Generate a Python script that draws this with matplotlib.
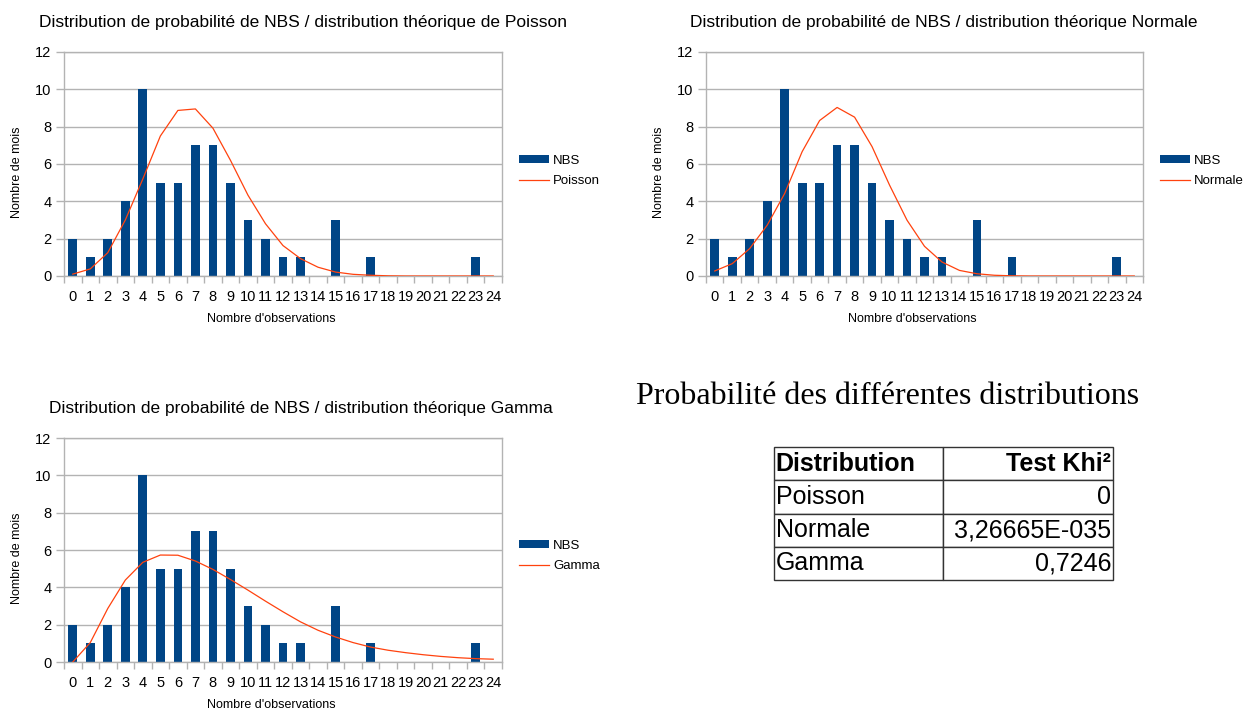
import matplotlib
matplotlib.use("Agg")
import matplotlib.pyplot as plt
from matplotlib.ticker import MultipleLocator, FixedLocator

plt.rcParams['font.family'] = ['Liberation Sans', 'DejaVu Sans']

W, H = 1246, 711

# data
observations = list(range(25))
nbs = [2, 1, 2, 4, 10, 5, 5, 7, 7, 5, 3, 2, 1, 1, 0, 3, 0, 1, 0, 0, 0, 0, 0, 1, 0]
poisson = [0.1, 0.38, 1.25, 3.0, 5.2, 7.5, 8.87, 8.95, 7.92, 6.2, 4.33, 2.8, 1.63,
           0.93, 0.47, 0.21, 0.09, 0.04, 0.01, 0.0, 0.0, 0.0, 0.0, 0.0, 0.0]
normale = [0.27, 0.66, 1.47, 2.72, 4.42, 6.66, 8.33, 9.03, 8.51, 6.93, 4.87, 2.99, 1.59,
           0.75, 0.3, 0.12, 0.04, 0.01, 0.0, 0.0, 0.0, 0.0, 0.0, 0.0, 0.0]
gamma = [0.0, 1.04, 2.87, 4.39, 5.34, 5.73, 5.72, 5.41, 4.96, 4.42, 3.85, 3.26, 2.69,
         2.15, 1.70, 1.34, 1.04, 0.80, 0.63, 0.5, 0.39, 0.30, 0.23, 0.18, 0.15]

table_cols = ["Distribution", "Test Khi²"]
table_names = ["Poisson", "Normale", "Gamma"]
table_values = ["0", "3,26665E-035", "0,7246"]

BLUE = "#004586"
ORANGE = "#ff420e"
GRAY = "#b3b3b3"


def fx(x):
    return x / W


def fy(y):
    return 1 - y / H


fig = plt.figure(figsize=(W / 100, H / 100), dpi=100)


def chart(left, right, top, bottom, curve, name, title, title_xy, leg_xy):
    ax = fig.add_axes([fx(left), fy(bottom), fx(right - left), (bottom - top) / H])
    bars = ax.bar(observations, nbs, width=0.5, color=BLUE, label="NBS", zorder=2)
    line, = ax.plot(observations, curve, color=ORANGE, lw=0.9, label=name, zorder=3)
    ax.set_xlim(-0.5, 24.5)
    ax.set_ylim(0, 12)
    ax.yaxis.set_major_locator(MultipleLocator(2))
    ax.set_xticks(observations)
    ax.xaxis.set_minor_locator(FixedLocator([i - 0.5 for i in range(26)]))
    ax.tick_params(axis='x', which='major', length=0, pad=10, labelsize=10.5, colors='black')
    ax.tick_params(axis='x', which='minor', length=5, color=GRAY, width=1)
    ax.tick_params(axis='y', length=6, color=GRAY, width=1, pad=3, labelsize=10.5)
    ax.grid(axis='y', color=GRAY, lw=1, zorder=0)
    ax.set_axisbelow(True)
    for s in ax.spines.values():
        s.set_color(GRAY)
        s.set_linewidth(1)
    ax.set_xlabel("Nombre d'observations", fontsize=9)
    ax.xaxis.set_label_coords(0.473, -0.165)
    ax.set_ylabel("Nombre de mois", fontsize=9)
    ax.yaxis.set_label_coords(-0.094, 0.465)
    fig.text(fx(title_xy[0]), fy(title_xy[1]), title, ha='center', va='center', fontsize=12.5)
    ax.legend([bars, line], ["NBS", name], loc='center left',
              bbox_to_anchor=(fx(leg_xy[0]), fy(leg_xy[1])),
              bbox_transform=fig.transFigure, frameon=False, fontsize=9.5,
              borderpad=0, borderaxespad=0, handlelength=2.3, handletextpad=0.3,
              labelspacing=0.65, handleheight=0.55)
    return ax


chart(64, 502, 52, 276, poisson, "Poisson",
      "Distribution de probabilité de NBS / distribution théorique de Poisson",
      (303, 22), (519, 171))
chart(706, 1143, 52, 276, normale, "Normale",
      "Distribution de probabilité de NBS / distribution théorique Normale",
      (944, 22), (1160, 171))
chart(64, 502, 438, 662, gamma, "Gamma",
      "Distribution de probabilité de NBS / distribution théorique Gamma",
      (301, 408), (519, 556))

# heading and table
fig.text(fx(888), fy(397), "Probabilité des différentes distributions",
         ha='center', va='center', fontsize=23, family='Liberation Serif')

tl, tr, tt, tb = 774, 1113, 447, 580
tax = fig.add_axes([fx(tl), fy(tb), fx(tr - tl), (tb - tt) / H])
tax.axis('off')
rows = [table_cols] + [[n, v] for n, v in zip(table_names, table_values)]
tab = tax.table(cellText=rows, cellLoc='left', bbox=[0, 0, 1, 1],
                colWidths=[(943 - tl) / (tr - tl), (tr - 943) / (tr - tl)])
tab.auto_set_font_size(False)
for (r, c), cell in tab.get_celld().items():
    cell.set_edgecolor('#333333')
    cell.set_linewidth(1)
    cell.PAD = 0.01
    cell.get_text().set_fontsize(18)
    if c == 1:
        cell.get_text().set_ha('right')
        cell._loc = 'right'
    if r == 0:
        cell.get_text().set_fontweight('bold')

fig.savefig("out.png", dpi=100)
